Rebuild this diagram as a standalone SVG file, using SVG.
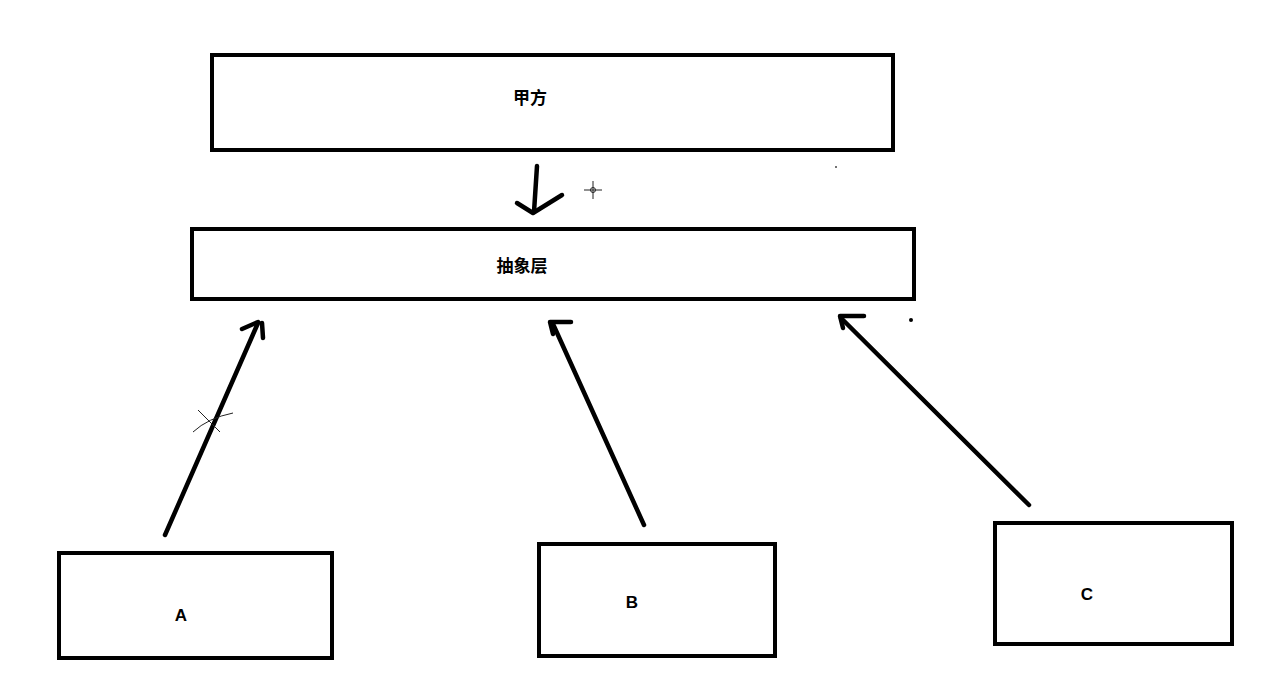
<svg xmlns="http://www.w3.org/2000/svg" width="1268" height="675" viewBox="0 0 1268 675">
<style>
.box{fill:#fff;stroke:#000;stroke-width:4}
.lbl{font-family:"Liberation Sans","Noto Sans CJK SC",sans-serif;font-weight:bold;font-size:17px;fill:#000;text-anchor:middle}
.ink{fill:none;stroke:#000;stroke-width:4.5;stroke-linecap:round;stroke-linejoin:round}
.thin{fill:none;stroke:#222;stroke-width:1}
</style>
<rect x="0" y="0" width="1268" height="675" fill="#fff"/>
<g id="node-jiafang"><rect class="box" x="212" y="55" width="681" height="95"/><text class="lbl" x="530" y="104">甲方</text></g>
<g id="node-abstract"><rect class="box" x="192" y="229" width="722" height="70"/><text class="lbl" x="522" y="272">抽象层</text></g>
<g id="node-a"><rect class="box" x="59" y="553" width="273" height="105"/><text class="lbl" x="181" y="621">A</text></g>
<g id="node-b"><rect class="box" x="539" y="544" width="236" height="112"/><text class="lbl" x="632" y="608">B</text></g>
<g id="node-c"><rect class="box" x="995" y="523" width="237" height="121"/><text class="lbl" x="1087" y="600">C</text></g>
<g id="connectors">
<path class="ink" d="M537 166 L534 212"/><path class="ink" d="M517 203 L533 213 L562 195"/>
<path class="ink" d="M165 535 L258 323"/><path class="ink" d="M242 329 L258 322 M262 323 L263 338"/>
<path class="ink" d="M644 525 L553 324"/><path class="ink" d="M571 322 L550 322 L553 334"/>
<path class="ink" d="M1029 505 L841 318"/><path class="ink" d="M864 316 L840 316 L843 328"/>
</g>
<g id="marks">
<path class="thin" d="M198 410 L220 432 M193 432 Q208 418 233 413"/>
<path class="thin" d="M593 181 V199 M584 190 H602"/><circle cx="593" cy="190" r="2.5" fill="none" stroke="#222"/>
<circle cx="911" cy="320" r="2" fill="#000"/>
<circle cx="836" cy="167" r="1" fill="#444"/>
</g>
</svg>
